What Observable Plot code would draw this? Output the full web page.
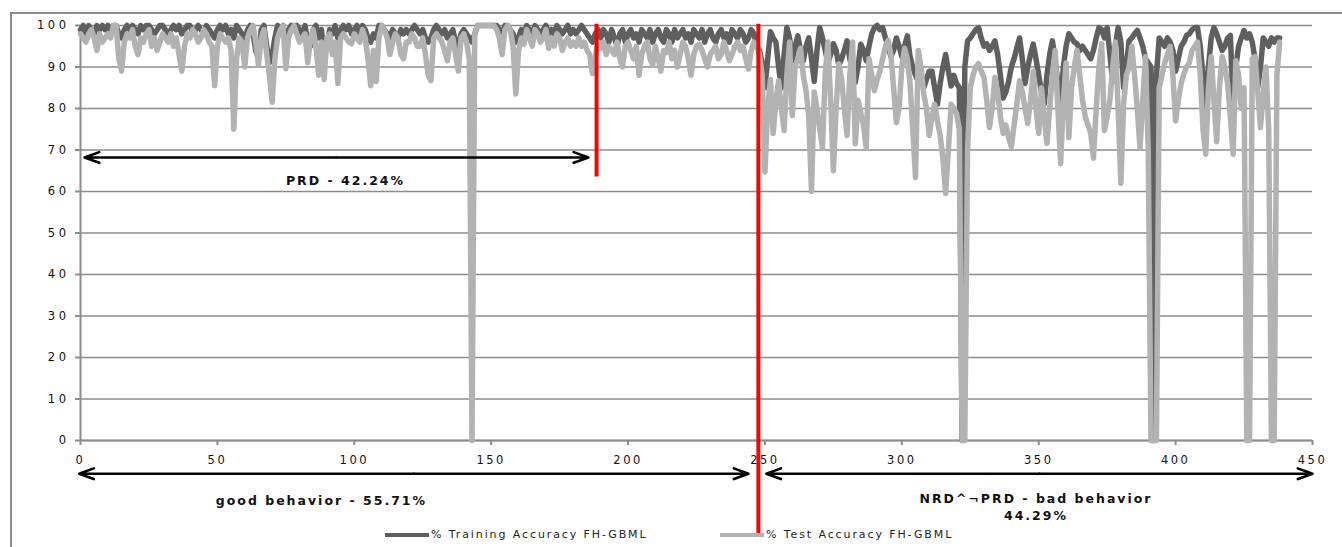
<!DOCTYPE html>
<html>
<head>
<meta charset="utf-8">
<script src="https://cdn.jsdelivr.net/npm/d3@7"></script>
<script src="https://cdn.jsdelivr.net/npm/@observablehq/plot@0.6"></script>
<style>
  html, body { margin: 0; padding: 0; background: #fff; overflow: hidden; }
  #wrap { position: relative; width: 1342px; height: 547px; }
  #frame { position: absolute; left: 10px; top: 12px; width: 1340px; height: 540px;
           border-left: 2px solid #8c8c8c; border-top: 2px solid #8c8c8c; pointer-events: none; z-index: 2; }
  .legend { position: absolute; top: 528px; font-family: "DejaVu Sans", sans-serif; font-size: 11px;
            letter-spacing: 1.9px; color: #222; display: flex; align-items: center; white-space: nowrap; z-index: 1; }
  .swatch { display: inline-block; width: 44px; height: 4px; margin-right: 2px; }
</style>
</head>
<body>
<div id="wrap"><div id="frame"></div></div>
<script>
// ---- data ----
const seriesNames = ["% Training Accuracy FH-GBML", "% Test Accuracy FH-GBML"];
const trainAcc = [
  99,100,98,100,99,98,100,99,100,99,
  100,99,100,100,98,97,99,100,99,100,
  99,98,100,99,100,100,99,98,99,100,
  100,99,98,99,100,99,100,98,99,100,
  100,98,99,100,99,98,100,99,98,97,
  99,100,99,100,98,99,97,100,99,98,
  96,99,100,98,94,92,99,100,95,91,
  93,97,100,99,100,95,99,100,99,100,
  99,98,100,96,95,99,100,97,99,93,
  95,99,98,100,97,99,100,99,100,98,
  99,100,98,100,99,97,96,98,97,100,
  100,99,98,97,99,98,97,99,98,99,
  98,99,100,99,98,99,97,96,97,99,
  100,99,98,99,97,98,99,96,95,98,
  99,98,97,96,98,100,100,100,100,100,
  100,100,100,99,98,100,100,99,98,96,
  97,99,98,100,99,98,100,99,98,99,
  100,98,99,98,100,99,98,99,100,98,
  99,98,99,100,99,98,97,96,98,99,
  97,99,98,96,99,97,95,98,99,96,
  98,99,97,98,96,99,98,97,99,96,
  98,99,97,96,99,98,96,99,97,98,
  99,97,98,96,99,98,97,99,96,98,
  99,97,96,98,99,97,98,96,99,98,
  97,99,98,96,97,99,98,95,94,91,
  85,92,98.5,97,96,90,85,93,99.5,97,
  91.5,95,97.5,94,91.5,95,97,92,86.5,94,
  99.5,97,94,91,93,95.6,94,90.4,92,94,
  96.3,92,89,86.3,90,95.5,94,91.5,95,98,
  99.5,100,99,99.5,97,95,92.5,94,97,95,
  92.5,95,97.5,92.5,90,88,86.7,88,85,87,
  89,89,85,81,86,90,93,89,85.4,88,
  86,85,0,90,96.3,97,98,99,99.5,97,
  95,95.6,94,95,96.3,93,88,82.5,84,86.5,
  90,92,94.6,97,92,86,90,93,95.5,92,
  88,84,81,88,93,96.3,92,86,81,90,
  95,98,97,96,95.6,94,95,94,93,92,
  94,97,99.5,99,97,99.5,93,86.5,95,99.5,
  96,85,90,96.3,97,98,98.8,97,95,92,
  91,90,0,88,97,96,95,97,96,94,
  89,92,95,96,97.6,98,99,99.5,99.5,95,
  88,78.8,90,97,99.5,98,96,94,95,97,
  97.6,81,90,95,97,98.8,97,98,96,92,
  85,90,97,96,95,97,96,97,97
];
const testAcc = [
  98,97,96,98,99,97,94,98,96,97,
  98,97,100,100,92,89,96,98,97,99,
  95,93,97,96,98,99,95,97,94,96,
  98,97,96,98,95,97,93,89,95,98,
  97,99,98,96,97,99,98,96,95,85.5,
  95,98,97,96,97,94,75,92,97,96,
  90,97,99,100,96,90.5,97,99,93,88,
  81.5,92,97,99,100,89.6,97,99,100,98,
  96,97,98,91,97,99,95,88,96,87,
  97,98,93,96,86,97,98,97,96,95.6,
  98,97,96,99,97,92,85.5,94,86.5,97,
  100,99,97,93,96,98,97,93,92,96,
  96,98,97,95,95,97,93,88,86.7,97,
  98,97,96,94,91.5,96,97,93,89,97,
  98,96,92,0,98,100,100,100,100,100,
  100,100,99,97,93,99,100,99,95,83.5,
  94,97,95.5,99,97,95,99,98,96,97,
  99,94.5,97,95,98,97,94,96,97,95,
  96,95,97,95,96,94,93,88.4,92,96,
  94.5,96,93,95,94,93,96,92,90,95,
  96,94,92,95,88,93,95,96,92,90.5,
  95,92,89,94,93.5,96,92,94,90,93,
  96,95,92,88,93,95,95.5,94,92,90,
  93,94,95,92,93,96,94,91.5,93,95,
  96,94,95,92,89.5,94,96,95,93,88,
  64.7,80,87,74,82,86.7,80,74.7,88,96,
  78.3,90,92,94.5,88,84.3,78,60,84,80,
  75,70.4,88,96,82,65,80,90.8,87,80,
  73.5,88,96,71.5,82,78.8,76,70.4,92,88,
  84.3,87,89,92,95,96.4,93,85,76.6,80,
  90,94.5,92,86,75,63.4,94,90,83.6,80,
  73.5,78,81,77,73.5,68,59.5,70,81,80,
  78.8,75,0,0,70,85,88,90,90.8,89,
  87.5,82,75.4,80,87.5,84,78,74,76,73,
  70.7,76,81,86.7,84,80,76.4,82,89,80,
  74,85,78,71.6,80,88,94,80,66.7,82,
  91,73,85,90,94,88,82,78,76,74,
  68,80,90,95.6,74.7,78,82,90,96,80,
  62,81,88,90,95,88,80,70.4,82,92.5,
  70,0,0,0,85,88,91,93,95,88,
  77,82,86,88.3,90,91,94,95,96,88,
  75,69,85,92.5,82,72,85,92.5,90,86,
  78,69,91.5,88,80,85,0,0,92,92.5,
  84,75.4,83.5,90,75,0,0,88,96
];
const xTicks = [0, 50, 100, 150, 200, 250, 300, 350, 400, 450];
const yTicks = [0, 10, 20, 30, 40, 50, 60, 70, 80, 90, 100];

// annotations (data coordinates)
const boundaries = [
  {x: 188.5, y1: 63.5, y2: 100.3},
  {x: 247.6, y1: -22.4, y2: 100.3}
];
const spans = [
  {x1: 1.5, x2: 185.5, y: 68.2},
  {x1: -0.5, x2: 244, y: -8.0},
  {x1: 250.5, x2: 450, y: -8.0}
];
const labels = [
  {text: "PRD - 42.24%", x: 96.8, y: 62.6},
  {text: "good behavior - 55.71%", x: 88, y: -14.6},
  {text: "NRD^¬PRD - bad behavior", x: 349, y: -14.2},
  {text: "44.29%", x: 349, y: -18.1}
];

// ---- build ----
const trainColor = "#5f5f5f";
const testColor = "#b2b2b2";
const idx = (d, i) => i;
const val = d => d;

// split each double-headed span into two arrows pointing outward
const arrowHalves = spans.flatMap(s => {
  const m = (s.x1 + s.x2) / 2;
  return [{x1: m, x2: s.x1, y: s.y}, {x1: m, x2: s.x2, y: s.y}];
});

const chart = Plot.plot({
  width: 1342,
  height: 547,
  marginLeft: 80,
  marginRight: 30,
  marginTop: 25,
  marginBottom: 107,
  x: {domain: [0, 450]},
  y: {domain: [0, 100]},
  style: {fontFamily: "DejaVu Sans, sans-serif", fontSize: "11.5px", color: "#000", background: "transparent", overflow: "visible"},
  marks: [
    Plot.gridY(yTicks, {stroke: "#8c8c8c", strokeOpacity: 1, strokeWidth: 1.6}),
    Plot.ruleX([0], {stroke: "#8c8c8c", strokeWidth: 2}),
    Plot.ruleY([0], {stroke: "#8c8c8c", strokeWidth: 2}),
    Plot.axisX(xTicks, {tickSize: 5, tickPadding: 10, stroke: "#8c8c8c", strokeWidth: 2, label: null, fill: "#111"}),
    Plot.axisY(yTicks, {tickSize: 5, tickPadding: 6, stroke: "#8c8c8c", strokeWidth: 2, label: null, fill: "#111"}),
    Plot.lineY(trainAcc, {x: idx, y: val, stroke: trainColor, strokeWidth: 5.5}),
    Plot.lineY(testAcc, {x: idx, y: val, stroke: testColor, strokeWidth: 5.5}),
    Plot.ruleX(boundaries, {x: "x", y1: "y1", y2: "y2", stroke: "#ff0000", strokeWidth: 4}),
    Plot.arrow(arrowHalves, {x1: "x1", x2: "x2", y1: "y", y2: "y", stroke: "#000", strokeWidth: 2.6, headLength: 9, headAngle: 40}),
    Plot.text(labels, {x: "x", y: "y", text: "text", fontWeight: "bold", fontSize: 12.5, fill: "#111"})
  ]
});

const svg = d3.select(chart.tagName === "svg" ? chart : chart.querySelector("svg"));
svg.selectAll('g[aria-label="x-axis tick label"] text').style("letter-spacing", "2.5px");
svg.selectAll('g[aria-label="y-axis tick label"] text').style("letter-spacing", "3.5px");
svg.selectAll('g[aria-label="text"] text').style("letter-spacing", "2px");

chart.style.position = "absolute";
chart.style.left = "0px";
chart.style.top = "0px";
const wrap = document.getElementById("wrap");
wrap.appendChild(chart);

// legend (HTML below the plot area)
const legendItems = [
  {name: seriesNames[0], color: trainColor, left: 385},
  {name: seriesNames[1], color: testColor, left: 720}
];
legendItems.forEach(item => {
  const el = document.createElement("div");
  el.className = "legend";
  el.style.left = item.left + "px";
  const sw = document.createElement("span");
  sw.className = "swatch";
  sw.style.background = item.color;
  el.appendChild(sw);
  el.appendChild(document.createTextNode(item.name));
  wrap.appendChild(el);
});
</script>
</body>
</html>
